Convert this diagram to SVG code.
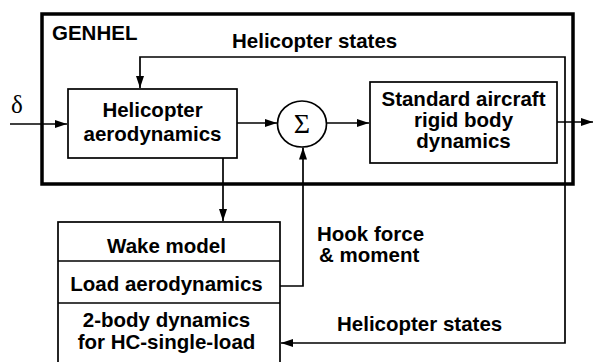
<svg xmlns="http://www.w3.org/2000/svg" width="594" height="362" viewBox="0 0 594 362">
<style>
text{font-family:"Liberation Sans",Arial,sans-serif;font-weight:bold;font-size:20.5px;fill:#000}
.c{text-anchor:middle}
.box{fill:none;stroke:#000;stroke-width:1.7}
.ln{fill:none;stroke:#000;stroke-width:1.7}
</style>
<defs>
<marker id="ah" viewBox="0 0 12 8" refX="12" refY="4" markerWidth="12" markerHeight="8" markerUnits="userSpaceOnUse" orient="auto">
<path d="M0,0 L12,4 L0,8 Z" fill="#000"/>
</marker>
</defs>
<rect width="594" height="362" fill="#fff"/>
<g id="genhel">
<rect x="42" y="14" width="531" height="170" fill="none" stroke="#000" stroke-width="3.5"/>
<text x="52" y="40">GENHEL</text>
</g>
<g id="heli-aero">
<rect class="box" x="68" y="89" width="169" height="69"/>
<text class="c" x="152.5" y="117">Helicopter</text>
<text class="c" x="152.5" y="141">aerodynamics</text>
</g>
<g id="sum">
<ellipse cx="302" cy="124" rx="24.5" ry="23" fill="#fff" stroke="#000" stroke-width="1.7"/>
<text class="c" x="302" y="133" style="font-family:'Liberation Serif','Times New Roman',serif;font-weight:normal;font-size:28px">Σ</text>
</g>
<g id="rigid">
<rect class="box" x="370" y="82" width="187" height="81"/>
<text class="c" x="463.5" y="106">Standard aircraft</text>
<text class="c" x="463.5" y="127">rigid body</text>
<text class="c" x="463.5" y="148">dynamics</text>
</g>
<g id="load-box">
<rect class="box" x="58" y="222" width="222" height="150"/>
<line class="ln" x1="58" y1="261" x2="280" y2="261"/>
<line class="ln" x1="58" y1="303" x2="280" y2="303"/>
<text class="c" x="166.5" y="253">Wake model</text>
<text class="c" x="166.5" y="291">Load aerodynamics</text>
<text class="c" x="166.5" y="327">2-body dynamics</text>
<text class="c" x="166.5" y="349">for HC-single-load</text>
</g>
<g id="labels">
<text x="232" y="48">Helicopter states</text>
<text x="317" y="241">Hook force</text>
<text x="319" y="262">&amp; moment</text>
<text x="337" y="331">Helicopter states</text>
<text x="11" y="113" style="font-family:'Liberation Serif','Times New Roman',serif;font-weight:normal;font-size:25px">δ</text>
</g>
<g id="connectors">
<line class="ln" x1="10" y1="124" x2="67" y2="124" marker-end="url(#ah)"/>
<line class="ln" x1="237" y1="123" x2="277" y2="123" marker-end="url(#ah)"/>
<line class="ln" x1="326.5" y1="123" x2="369" y2="123" marker-end="url(#ah)"/>
<line class="ln" x1="557" y1="122" x2="593" y2="122" marker-end="url(#ah)"/>
<polyline class="ln" points="565,122 565,57 140,57 140,88" marker-end="url(#ah)"/>
<line class="ln" x1="223" y1="158" x2="223" y2="221" marker-end="url(#ah)"/>
<polyline class="ln" points="280,286 303,286 303,147.5" marker-end="url(#ah)"/>
<polyline class="ln" points="565,122 565,343 281,343" marker-end="url(#ah)"/>
</g>
</svg>
